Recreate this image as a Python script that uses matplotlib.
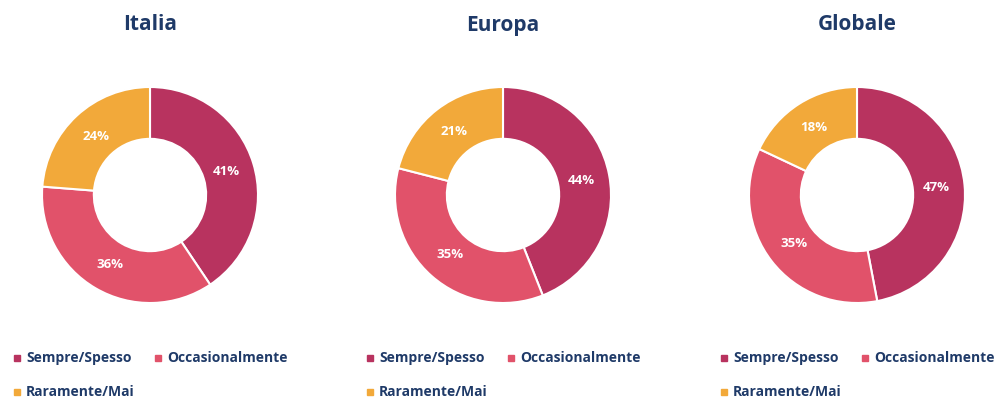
import numpy as np
import matplotlib.pyplot as plt
from matplotlib.lines import Line2D

plt.rcParams['font.family'] = ['Open Sans', 'DejaVu Sans']

regions = ["Italia", "Europa", "Globale"]
categories = ["Sempre/Spesso", "Occasionalmente", "Raramente/Mai"]
values = {
    "Italia": [41, 36, 24],
    "Europa": [44, 35, 21],
    "Globale": [47, 35, 18],
}
colors = ["#B8335F", "#E1526A", "#F2A93A"]
navy = "#1F3A68"

W, H = 999, 401
fig = plt.figure(figsize=(W / 100, H / 100), dpi=100)

centers_x = [150, 503, 857]
cy = 195
r = 108

# legend slots (x offset of marker from donut centre, row y in pixels)
slots = [(-133, 358), (8, 358), (-133, 392)]

for name, cx in zip(regions, centers_x):
    ax = fig.add_axes([(cx - r) / W, (H - cy - r) / H, 2 * r / W, 2 * r / H])
    wedges, _ = ax.pie(values[name], colors=colors, startangle=90,
                       counterclock=False, radius=1,
                       wedgeprops=dict(width=0.48, edgecolor="white", linewidth=1.5))
    for w, v in zip(wedges, values[name]):
        ang = np.deg2rad((w.theta1 + w.theta2) / 2)
        ax.text(0.74 * np.cos(ang), 0.74 * np.sin(ang), f"{v}%",
                ha="center", va="center", color="white",
                fontsize=9.5, fontweight="bold")
    ax.set_xlim(-1, 1)
    ax.set_ylim(-1, 1)
    ax.set_aspect("equal")
    fig.text(cx / W, 1 - 25 / H, name, ha="center", va="center",
             fontsize=15, fontweight="bold", color=navy)

    # legend
    for (dx, y), lab, c in zip(slots, categories, colors):
        fig.add_artist(Line2D([(cx + dx) / W], [1 - y / H], marker="s",
                              linestyle="none", color=c, markersize=5,
                              transform=fig.transFigure))
        fig.text((cx + dx + 9) / W, 1 - y / H, lab, ha="left", va="center",
                 fontsize=10, fontweight="bold", color=navy)

fig.savefig("out.png", dpi=100)
